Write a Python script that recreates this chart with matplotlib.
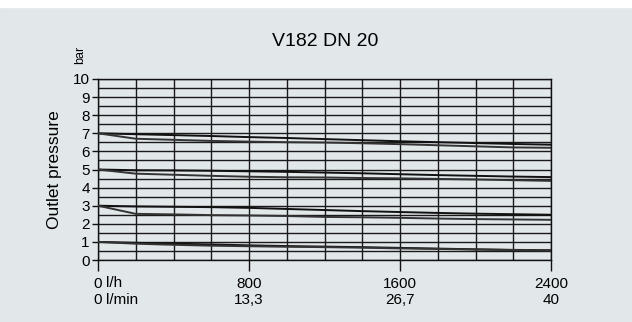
import matplotlib.pyplot as plt

# flow in l/h, outlet pressure in bar
flow = [0, 200, 400, 600, 800, 1000, 1200, 1400, 1600, 1800, 2000, 2200, 2400]
p7_upper = [7.0, 6.95, 6.9, 6.85, 6.79, 6.74, 6.68, 6.62, 6.56, 6.51, 6.46, 6.41, 6.37]
p7_lower = [7.0, 6.7, 6.64, 6.58, 6.54, 6.51, 6.49, 6.45, 6.4, 6.34, 6.28, 6.22, 6.2]
p5_upper = [5.0, 4.96, 4.95, 4.93, 4.9, 4.87, 4.83, 4.79, 4.74, 4.69, 4.65, 4.61, 4.58]
p5_lower = [5.0, 4.77, 4.71, 4.65, 4.6, 4.57, 4.56, 4.53, 4.51, 4.48, 4.45, 4.41, 4.37]
p3_upper = [3.0, 2.96, 2.94, 2.92, 2.88, 2.82, 2.76, 2.7, 2.65, 2.6, 2.56, 2.53, 2.5]
p3_lower = [3.0, 2.55, 2.52, 2.48, 2.46, 2.43, 2.38, 2.36, 2.33, 2.29, 2.26, 2.24, 2.22]
p1_upper = [1.0, 0.95, 0.9, 0.86, 0.81, 0.77, 0.74, 0.71, 0.67, 0.63, 0.59, 0.56, 0.54]
p1_lower = [1.0, 0.9, 0.84, 0.79, 0.76, 0.73, 0.71, 0.68, 0.64, 0.61, 0.58, 0.55, 0.53]

xticks = [0, 800, 1600, 2400]
xlabels_lh = ["0", "800", "1600", "2400"]
xlabels_lmin = ["0", "13,3", "26,7", "40"]

plt.rcParams['font.family'] = ['Liberation Sans', 'DejaVu Sans']
bg = '#e2e7ea'

fig = plt.figure(figsize=(6.32, 3.22), dpi=100, facecolor=bg)
# white strip at the top
fig.patches.append(plt.Rectangle((0, 1 - 7 / 322), 1, 7 / 322, transform=fig.transFigure,
                                 color='white', zorder=0))
ax = fig.add_axes([98 / 632, 62 / 322, 453 / 632, 181 / 322])
ax.set_facecolor(bg)

# grid
for gx in range(0, 2401, 200):
    ax.axvline(gx, color='#1a1a1a', lw=1.0, zorder=1)
for i in range(21):
    ax.axhline(i * 0.5, color='#1a1a1a', lw=1.0, zorder=1)

for up, lo in [(p7_upper, p7_lower), (p5_upper, p5_lower),
               (p3_upper, p3_lower), (p1_upper, p1_lower)]:
    ax.plot(flow, up, color='#111111', lw=1.4, zorder=3)
    ax.plot(flow, lo, color='#333333', lw=1.4, zorder=3)

ax.set_xlim(0, 2400)
ax.set_ylim(0, 10)
for s in ax.spines.values():
    s.set_color('#111111')
    s.set_linewidth(1.0)

ax.set_yticks(range(0, 11))
ax.tick_params(axis='y', length=4, width=1, labelsize=11, pad=2, color='#111111')
ax.set_xticks(xticks)
ax.set_xticklabels([a + "\n" + b for a, b in zip(xlabels_lh, xlabels_lmin)],
                   linespacing=1.25)
ax.tick_params(axis='x', length=8, width=1, labelsize=11, pad=4, color='#111111')

ax.set_ylabel("Outlet pressure", fontsize=12.5, labelpad=8)
fig.text(80 / 632, 1 - 55 / 322, "bar", rotation=90, fontsize=9,
         ha='center', va='center')
fig.text(106 / 632, 1 - 283 / 322, "l/h", fontsize=11, ha='left', va='center')
fig.text(106 / 632, 1 - 300 / 322, "l/min", fontsize=11, ha='left', va='center')
fig.text(325 / 632, 1 - 42 / 322, "V182 DN 20", fontsize=14, ha='center', va='center')

fig.savefig("out.png", dpi=100, facecolor=bg)
